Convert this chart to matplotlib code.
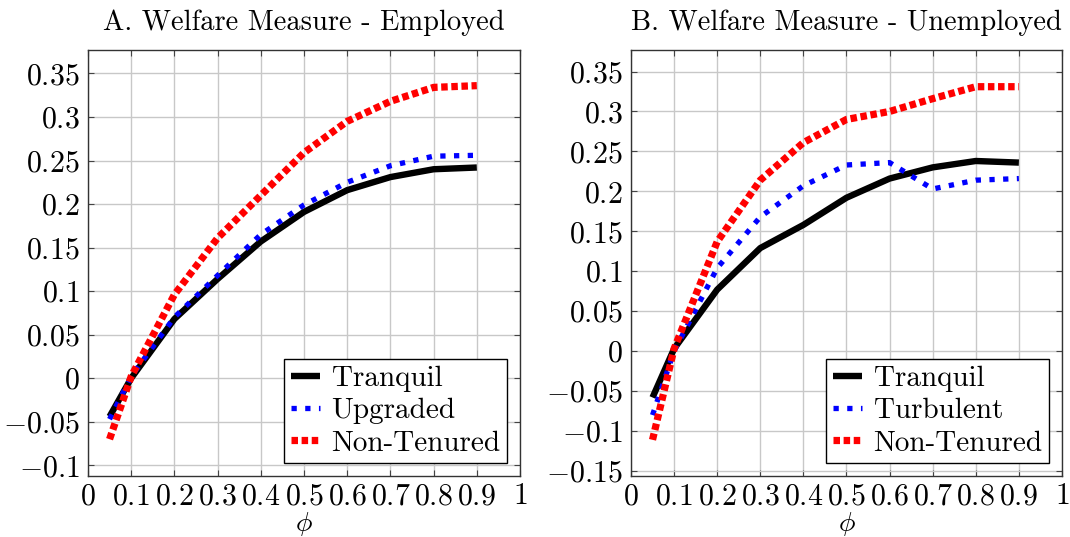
import matplotlib
matplotlib.use("Agg")
import matplotlib.pyplot as plt
from matplotlib.ticker import FuncFormatter

plt.rcParams['font.family'] = 'serif'
plt.rcParams['font.serif'] = ['cmr10', 'DejaVu Serif']
plt.rcParams['mathtext.fontset'] = 'cm'
plt.rcParams['axes.unicode_minus'] = True

# phi grid
phi = [0.05, 0.1, 0.2, 0.3, 0.4, 0.5, 0.6, 0.7, 0.8, 0.9]

# Panel A - employed
emp_tranquil = [-0.044, 0.0, 0.068, 0.114, 0.157, 0.191, 0.216, 0.231, 0.240, 0.242]
emp_upgraded = [-0.047, 0.002, 0.070, 0.118, 0.165, 0.199, 0.225, 0.244, 0.255, 0.256]
emp_nontenured = [-0.070, 0.002, 0.096, 0.161, 0.210, 0.259, 0.295, 0.318, 0.334, 0.336]

# Panel B - unemployed
une_tranquil = [-0.058, 0.003, 0.077, 0.129, 0.158, 0.192, 0.216, 0.230, 0.238, 0.236]
une_turbulent = [-0.080, 0.0, 0.104, 0.168, 0.207, 0.233, 0.236, 0.203, 0.214, 0.216]
une_nontenured = [-0.111, 0.003, 0.137, 0.214, 0.261, 0.290, 0.300, 0.316, 0.331, 0.331]

xticks = [0, 0.1, 0.2, 0.3, 0.4, 0.5, 0.6, 0.7, 0.8, 0.9, 1]
yticks_a = [-0.1, -0.05, 0, 0.05, 0.1, 0.15, 0.2, 0.25, 0.3, 0.35]
yticks_b = [-0.15, -0.1, -0.05, 0, 0.05, 0.1, 0.15, 0.2, 0.25, 0.3, 0.35]

fmt = FuncFormatter(lambda v, pos: r'$%s$' % ('%g' % round(v, 4)))

fig = plt.figure(figsize=(10.7, 5.37), dpi=100)
ax1 = fig.add_axes([0.0822, 0.114, 0.4038, 0.793])
ax2 = fig.add_axes([0.5897, 0.114, 0.4028, 0.793])


def style(ax, title, yticks, ylim):
    ax.set_xlim(0, 1)
    ax.set_ylim(*ylim)
    ax.set_xticks(xticks)
    ax.set_yticks(yticks)
    ax.xaxis.set_major_formatter(fmt)
    ax.yaxis.set_major_formatter(fmt)
    ax.grid(True, color='#c8c8c8', lw=1.0)
    ax.set_axisbelow(True)
    ax.tick_params(direction='in', top=True, right=True, length=4,
                   labelsize=21.5, color='#444444', pad=6)
    ax.tick_params(axis='x', pad=5)
    for s in ax.spines.values():
        s.set_color('#333333')
        s.set_linewidth(1.0)
    ax.set_title(title, fontsize=20.5, pad=14)
    ax.set_xlabel(r'$\phi$', fontsize=20, labelpad=0)


def draw(ax, y1, y2, y3, labels):
    ax.plot(phi, y1, color='black', lw=4.6, solid_capstyle='butt', label=labels[0])
    ax.plot(phi, y2, color='blue', lw=3.8, ls=(0, (1, 1.6)), label=labels[1])
    ax.plot(phi, y3, color='red', lw=5.2, ls=(0, (0.9, 0.5)), label=labels[2])
    leg = ax.legend(loc='lower right', bbox_to_anchor=(0.97, 0.03), borderaxespad=0,
                    fontsize=21, frameon=True, fancybox=False, handlelength=1.0,
                    handletextpad=0.4, labelspacing=0.2, borderpad=0.22)
    leg.get_frame().set_edgecolor('black')
    leg.get_frame().set_linewidth(1.0)
    leg.get_frame().set_alpha(1)


draw(ax1, emp_tranquil, emp_upgraded, emp_nontenured, ['Tranquil', 'Upgraded', 'Non-Tenured'])
style(ax1, 'A. Welfare Measure - Employed', yticks_a, (-0.112, 0.377))

draw(ax2, une_tranquil, une_turbulent, une_nontenured, ['Tranquil', 'Turbulent', 'Non-Tenured'])
style(ax2, 'B. Welfare Measure - Unemployed', yticks_b, (-0.156, 0.377))

fig.savefig('out.png', dpi=100)
